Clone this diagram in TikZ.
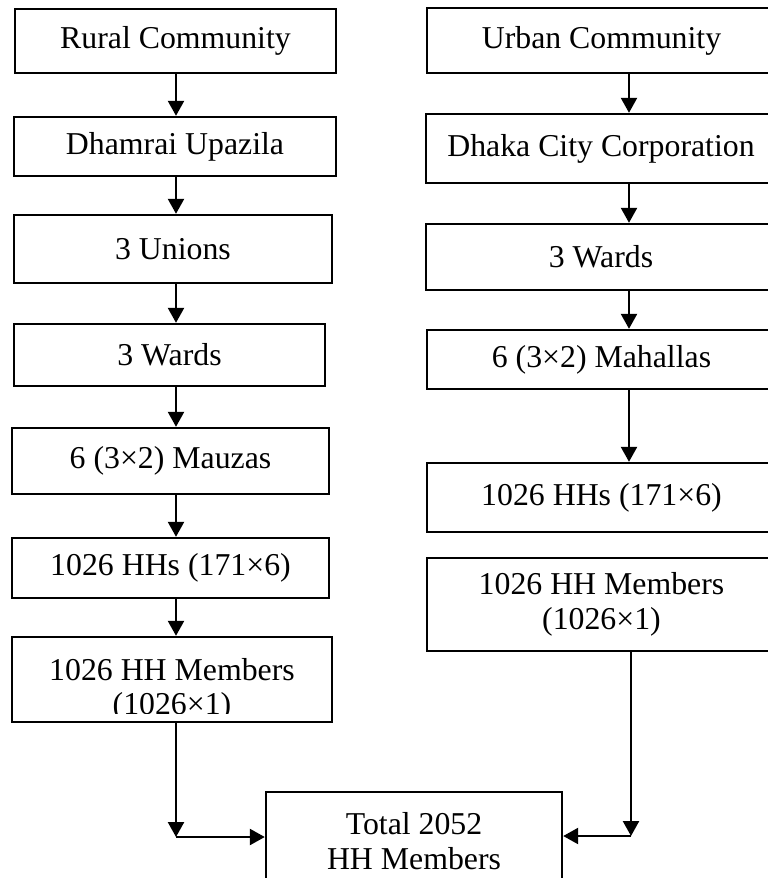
\documentclass[tikz,border=0pt]{standalone}
\usepackage{fontspec}
\setmainfont{Liberation Serif}
\usetikzlibrary{arrows.meta}
\tikzset{
  box/.style={draw=black, line width=2.4pt, inner sep=0pt, align=center,
    font=\fontsize{31.8}{34.5}\selectfont},
  txt/.style={inner sep=0pt, align=center, font=\fontsize{31.8}{34.5}\selectfont},
  arr/.style={line width=2.4pt, -{Triangle[length=15pt,width=16pt]}}
}
\begin{document}
\begin{tikzpicture}[x=1pt,y=-1pt]
\useasboundingbox (0,0) rectangle (768,878);
\clip (0,0) rectangle (768,878);
% left column
\node[box, minimum width=321pt, minimum height=64pt] (L1) at (175.5,41) {Rural Community};
\node[box, minimum width=322pt, minimum height=59pt] (L2) at (175,146.5) {Dhamrai Upazila};
\node[box, minimum width=318pt, minimum height=68pt] (L3) at (173,249) {3 Unions};
\node[box, minimum width=311pt, minimum height=62pt] (L4) at (169.5,355) {3 Wards};
\node[box, minimum width=317pt, minimum height=66pt] (L5) at (170.5,461) {6 (3×2) Mauzas};
\node[box, minimum width=317pt, minimum height=60pt] (L6) at (170.5,568) {1026 HHs (171×6)};
\node[box, minimum width=320pt, minimum height=85pt] (L7) at (172,679.5) {};
\begin{scope}
  \clip (12,640) rectangle (332,713);
  \node[txt] (L7t) at (172,690) {1026 HH Members\\(1026×1)};
\end{scope}
% right column
\node[box, minimum width=349pt, minimum height=65pt] (R1) at (601.5,40.5) {Urban Community};
\node[box, minimum width=350pt, minimum height=69pt] (R2) at (601,148.5) {Dhaka City Corporation};
\node[box, minimum width=350pt, minimum height=66pt] (R3) at (601,257) {3 Wards};
\node[box, minimum width=349pt, minimum height=59pt] (R4) at (601.5,359.5) {6 (3×2) Mahallas};
\node[box, minimum width=349pt, minimum height=69pt] (R5) at (601.5,497.5) {1026 HHs (171×6)};
\node[box, minimum width=349pt, minimum height=93pt] (R6) at (601.5,604.5) {1026 HH Members\\(1026×1)};
% total
\node[box, minimum width=296pt, minimum height=98pt] (T) at (414,841) {Total 2052\\HH Members};
% column coordinates
\coordinate (lx) at (176,0);
\coordinate (rx) at (629,0);
\coordinate (rx2) at (631,0);
\coordinate (cl) at (176,837);
\coordinate (cr) at (631,836);
% left arrows
\draw[arr] (L1.south -| lx) -- (L2.north -| lx);
\draw[arr] (L2.south -| lx) -- (L3.north -| lx);
\draw[arr] (L3.south -| lx) -- (L4.north -| lx);
\draw[arr] (L4.south -| lx) -- (L5.north -| lx);
\draw[arr] (L5.south -| lx) -- (L6.north -| lx);
\draw[arr] (L6.south -| lx) -- (L7.north -| lx);
% right arrows
\draw[arr] (R1.south -| rx) -- (R2.north -| rx);
\draw[arr] (R2.south -| rx) -- (R3.north -| rx);
\draw[arr] (R3.south -| rx) -- (R4.north -| rx);
\draw[arr] (R4.south -| rx) -- (R5.north -| rx);
% to total
\draw[arr] (L7.south -| lx) -- (cl);
\draw[arr] (cl) -- (T.west |- cl);
\draw[arr] (R6.south -| rx2) -- (cr);
\draw[arr] (cr) -- (T.east |- cr);
\end{tikzpicture}
\end{document}
